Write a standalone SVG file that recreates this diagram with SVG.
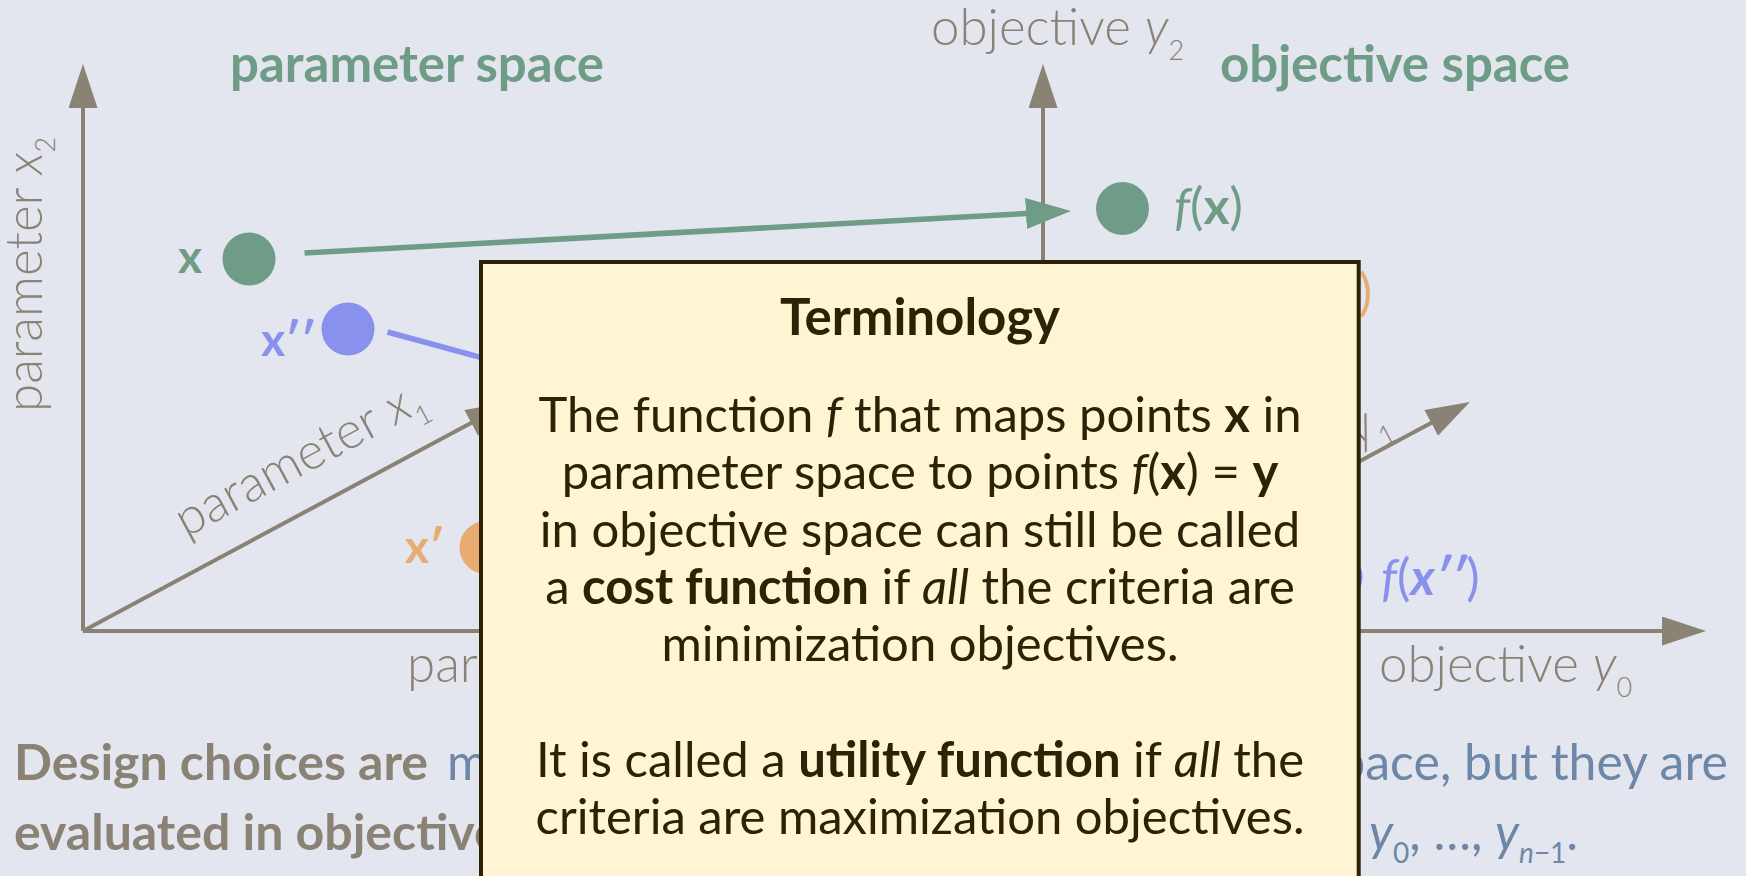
<svg xmlns="http://www.w3.org/2000/svg" width="1746" height="876" viewBox="0 0 1746 876">
<defs>
<style>
.axis{stroke:#8a8274;stroke-width:4;fill:none}
.lbl{font-family:Lato,"Open Sans",sans-serif;font-weight:300;font-size:51px;fill:#8a8274}
.sub{font-size:27px}
.title{font-family:Lato,"Open Sans",sans-serif;font-weight:700;font-size:51px;fill:#6f9c86;text-anchor:middle}
.pt{font-family:Lato,"Open Sans",sans-serif;font-weight:700;font-size:46px}
.fl{font-family:Lato,"Open Sans",sans-serif;font-weight:400;font-size:50px}
.green{fill:#6f9c86}
.blue{fill:#8891ee}
.orange{fill:#e8ab72}
.box{fill:#fff5d2;stroke:#2c2208;stroke-width:4}
.bt{font-family:Lato,"Open Sans",sans-serif;font-weight:400;font-size:49px;fill:#2c2208;text-anchor:middle}
.tt{font-size:51px;font-weight:700}
.b{font-weight:700}
.i{font-style:italic}
.foot{font-family:Lato,"Open Sans",sans-serif;font-size:50px}
.fg{fill:#8a8274;font-weight:700}
.fb{fill:#6e87a8;font-weight:400}
</style>
<marker id="ah" markerUnits="userSpaceOnUse" markerWidth="46" markerHeight="30" refX="1" refY="14.5" orient="auto">
<path d="M0,0 L44,14.5 L0,29 z" fill="#8a8274"/>
</marker>
<marker id="ahg" markerUnits="userSpaceOnUse" markerWidth="47" markerHeight="32" refX="1" refY="15.5" orient="auto">
<path d="M0,0 L45,15.5 L0,31 z" fill="#6f9c86"/>
</marker>
<marker id="ahb" markerUnits="userSpaceOnUse" markerWidth="47" markerHeight="32" refX="1" refY="15.5" orient="auto">
<path d="M0,0 L45,15.5 L0,31 z" fill="#8891ee"/>
</marker>
</defs>
<rect width="1746" height="876" fill="#e3e6ee"/>

<g id="parameter-axes">
<path class="axis" d="M83,631 V107" marker-end="url(#ah)"/>
<path class="axis" d="M83,631 H703" marker-end="url(#ah)"/>
<path class="axis" d="M83,631 L472,422.4" marker-end="url(#ah)"/>
<text class="lbl" font-size="53" transform="translate(42,412) rotate(-90)">parameter <tspan class="i">x</tspan><tspan class="sub" dy="13">2</tspan></text>
<text class="lbl" transform="translate(186,538) rotate(-28.2)">parameter <tspan class="i">x</tspan><tspan class="sub" dy="13">1</tspan></text>
<text class="lbl" x="407" y="682">parameter</text>
</g>

<g id="objective-axes">
<path class="axis" d="M1043,631 V107" marker-end="url(#ah)"/>
<path class="axis" d="M1043,631 H1663" marker-end="url(#ah)"/>
<path class="axis" d="M1043,631 L1432,422.4" marker-end="url(#ah)"/>
<text class="lbl" x="931" y="45">objective <tspan class="i">y</tspan><tspan class="sub" dy="15">2</tspan></text>
<text class="lbl" x="1379" y="682">objective <tspan class="i">y</tspan><tspan class="sub" dy="15">0</tspan></text>
<text class="lbl" text-anchor="end" transform="translate(1392,428) rotate(-28.2)">objective <tspan class="i">y</tspan><tspan class="sub" dy="13">1</tspan></text>
</g>

<g id="titles">
<text class="title" x="417" y="82">parameter space</text>
<text class="title" x="1395" y="82">objective space</text>
</g>

<g id="connectors">
<path d="M304.5,253 L1027,213.5" stroke="#6f9c86" stroke-width="5.5" fill="none" marker-end="url(#ahg)"/>
<path d="M387.5,332 L1252.6,568.1" stroke="#8891ee" stroke-width="5.5" fill="none" marker-end="url(#ahb)"/>
</g>

<g id="node-x">
<circle cx="249" cy="259" r="26.5" class="green"/>
<text class="pt green" x="178" y="273">x</text>
</g>
<g id="node-x2">
<circle cx="348" cy="329" r="26.5" class="blue"/>
<text class="pt blue" x="261" y="356">x′′</text>
</g>
<g id="node-x1">
<circle cx="486" cy="547.5" r="26.5" class="orange"/>
<text class="pt orange" x="405" y="563">x′</text>
</g>
<g id="node-fx">
<circle cx="1122.5" cy="208.5" r="26.5" class="green"/>
<text class="fl green" x="1174" y="224"><tspan class="i">f</tspan>(<tspan class="b">x</tspan>)</text>
</g>
<g id="node-fx1">
<text class="fl orange" x="1372" y="310" text-anchor="end"><tspan class="i">f</tspan>(<tspan class="b">x′</tspan>)</text>
</g>
<g id="node-fx2">
<circle cx="1336" cy="577" r="26.5" class="blue"/>
<text class="fl blue" x="1381" y="595"><tspan class="i">f</tspan>(<tspan class="b i">x′′</tspan>)</text>
</g>

<g id="footer">
<text class="foot fg" x="14" y="780">Design choices are</text>
<text class="foot fb" x="447" y="780">m</text>
<text class="foot fb" x="1728" y="780" text-anchor="end">space, but they are</text>
<text class="foot fg" x="14" y="850">evaluated in objective</text>
<text class="foot fb" x="1369" y="850"><tspan class="i">y</tspan><tspan font-size="28" dy="13">0</tspan><tspan dy="-13">, …, </tspan><tspan class="i">y</tspan><tspan font-size="28" dy="13"><tspan class="i">n</tspan>−1</tspan><tspan dy="-13">.</tspan></text>
</g>

<g id="terminology-box">
<rect class="box" x="481" y="262" width="877.7" height="700"/>
<text class="bt tt" x="920" y="335">Terminology</text>
<text class="bt" x="920" y="432">The function <tspan class="i">f</tspan> that maps points <tspan class="b">x</tspan> in</text>
<text class="bt" x="920" y="489">parameter space to points <tspan class="i">f</tspan>(<tspan class="b">x</tspan>) = <tspan class="b">y</tspan></text>
<text class="bt" x="920" y="547">in objective space can still be called</text>
<text class="bt" x="920" y="604">a <tspan class="b">cost function</tspan> if <tspan class="i">all</tspan> the criteria are</text>
<text class="bt" x="920" y="661">minimization objectives.</text>
<text class="bt" x="920" y="777">It is called a <tspan class="b">utility function</tspan> if <tspan class="i">all</tspan> the</text>
<text class="bt" x="920" y="834">criteria are maximization objectives.</text>
</g>
</svg>
